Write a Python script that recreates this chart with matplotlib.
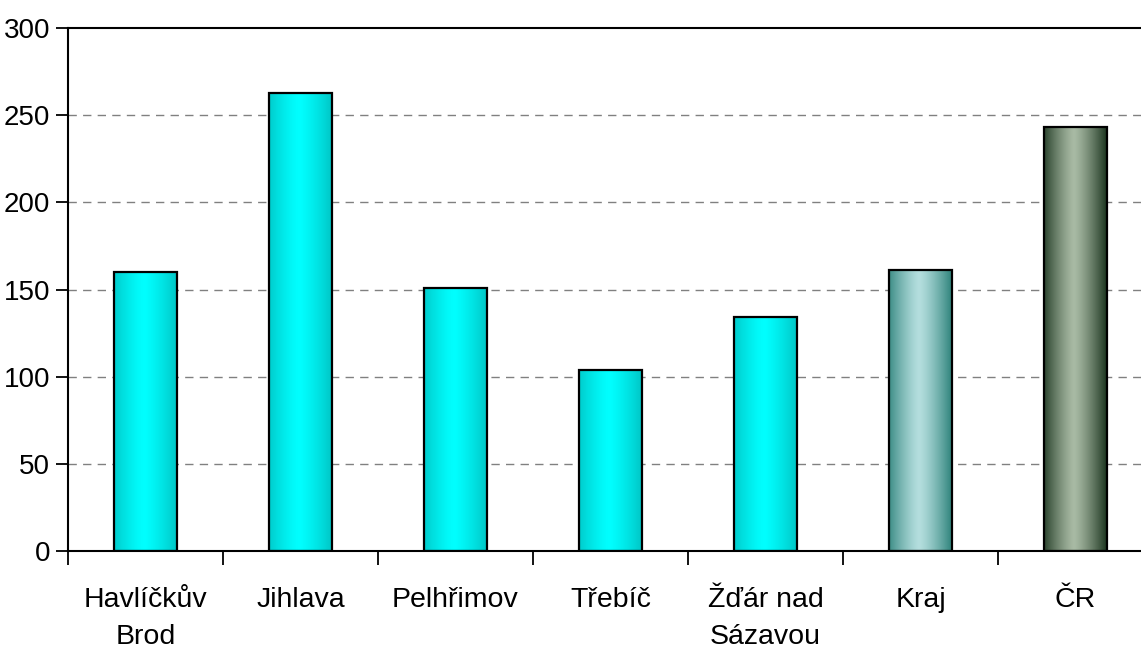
import numpy as np
import matplotlib.pyplot as plt
from matplotlib import font_manager
from matplotlib.colors import LinearSegmentedColormap

categories = ["Havlíčkův\nBrod", "Jihlava", "Pelhřimov", "Třebíč", "Žďár nad\nSázavou", "Kraj", "ČR"]
values = [160, 263, 151, 104, 134, 161, 243]
yticks = [0, 50, 100, 150, 200, 250, 300]

# gradient (edge, centre) per bar
cyan = ("#00c4c4", "#00ffff")
kraj = ("#2a8078", "#b4dede")
cr = ("#16301a", "#a8baa4")
bar_colors = [cyan, cyan, cyan, cyan, cyan, kraj, cr]

names = {f.name for f in font_manager.fontManager.ttflist}
fam = "Liberation Sans Narrow" if "Liberation Sans Narrow" in names else "Liberation Sans"
plt.rcParams["font.family"] = [fam, "DejaVu Sans"]

fig = plt.figure(figsize=(11.41, 6.52), dpi=100)
ax = fig.add_axes([68 / 1141, 101 / 652, 1085 / 1141, 523 / 652])

x = np.arange(len(categories))
bars = ax.bar(x, values, width=0.41, color="none", edgecolor="black", linewidth=1.6, zorder=3)

t = np.linspace(0, 1, 256)
shape = np.abs(t - 0.47) / 0.53
shape = np.clip(shape, 0, 1) ** 1.3
for b, (edge, mid) in zip(bars, bar_colors):
    cmap = LinearSegmentedColormap.from_list("g", [mid, edge])
    ax.imshow(shape[None, :], cmap=cmap, vmin=0, vmax=1, aspect="auto",
              extent=(b.get_x(), b.get_x() + b.get_width(), 0, b.get_height()),
              zorder=2, interpolation="bilinear")

ax.set_xlim(-0.5, len(categories) - 0.5)
ax.set_ylim(0, 300)
ax.set_yticks(yticks)
ax.set_xticks(x)
ax.set_xticklabels(categories, fontsize=20.5, linespacing=1.55)
ax.set_xticks(np.arange(-0.5, len(categories)), minor=True)
ax.tick_params(axis="x", which="major", length=0, pad=26)
ax.tick_params(axis="x", which="minor", length=10, width=1.3, direction="out")
ax.tick_params(axis="y", labelsize=20, length=9, width=1.3, direction="out", pad=4)

for y in yticks[1:-1]:
    ax.axhline(y, color="#808080", linestyle=(0, (6, 4.5)), linewidth=1, zorder=1)

for s in ax.spines.values():
    s.set_linewidth(1.5)

plt.savefig("out.png", dpi=100)
